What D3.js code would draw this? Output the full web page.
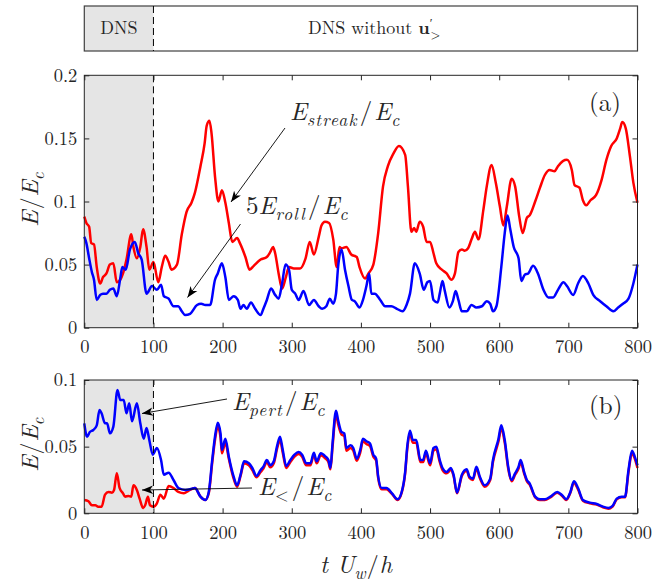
<!DOCTYPE html>
<html>
<head>
<meta charset="utf-8">
<script src="https://cdn.jsdelivr.net/npm/d3@7"></script>
<style>
  body { margin: 0; background: #fff; }
  svg text { font-family: "Latin Modern Roman", "Liberation Serif", serif; fill: #262626; }
</style>
</head>
<body>
<div id="chart"></div>
<script>
// ---- data ----
let xTicks = [0, 100, 200, 300, 400, 500, 600, 700, 800];
let yTicksA = [0, 0.05, 0.1, 0.15, 0.2];
let yTicksB = [0, 0.05, 0.1];
let dnsEnd = 100;

// panel (a), red: E_streak/E_c
let streakT = [0,3,7,10,14,18,23,27,32,37,42,47,52,56,61,68,71,76,81,85,90,94,100,107,112,117,122,126,134,141,148,155,160,168,174,177,181,184,189,194,199,204,209,214,221,225,233,239,245,255,264,269,273,276,281,286,291,296,303,312,320,326,332,339,343,348,354,360,365,369,372,379,386,394,398,406,411,418,425,432,439,447,455,464,468,473,477,480,485,490,495,500,505,509,517,524,531,536,541,546,550,555,560,565,570,577,582,589,595,601,606,611,618,623,629,634,640,644,652,659,666,673,680,685,692,698,705,709,716,721,726,732,740,748,755,762,770,775,778,783,789,794,800];
let streakE = [.088,.083,.080,.067,.066,.048,.035,.040,.043,.050,.051,.036,.038,.043,.054,.074,.064,.055,.064,.078,.064,.046,.052,.036,.048,.057,.052,.046,.050,.074,.092,.099,.107,.128,.146,.160,.164,.154,.120,.100,.109,.099,.083,.068,.071,.067,.056,.046,.049,.054,.056,.060,.064,.059,.043,.031,.039,.048,.047,.047,.055,.068,.058,.072,.081,.084,.083,.070,.048,.064,.063,.064,.058,.056,.048,.039,.043,.050,.075,.112,.128,.138,.144,.137,.112,.076,.079,.076,.084,.080,.068,.068,.059,.051,.046,.043,.038,.043,.060,.062,.061,.063,.070,.076,.070,.093,.112,.129,.115,.096,.081,.096,.118,.112,.088,.075,.087,.089,.100,.111,.121,.125,.124,.128,.132,.133,.125,.113,.111,.101,.097,.101,.105,.117,.133,.144,.150,.158,.163,.158,.136,.115,.099];

// panel (a), blue: 5 E_roll/E_c
let rollT = [0,3,7,11,14,18,23,27,32,37,42,47,52,55,60,66,73,78,83,90,98,105,111,115,122,129,136,141,146,153,163,169,175,182,189,193,199,204,209,216,222,226,230,235,241,247,255,259,264,270,276,281,286,291,296,300,305,310,317,325,332,339,344,350,355,360,364,367,372,377,382,387,391,398,403,408,412,415,420,428,435,444,452,460,466,471,478,485,491,496,500,505,511,514,518,521,528,533,537,541,546,553,560,567,575,582,587,591,596,603,608,612,616,621,628,632,637,642,649,656,664,671,678,685,693,698,707,714,721,729,736,746,755,765,772,779,787,794,800];
let rollE = [.072,.067,.055,.044,.038,.022,.026,.027,.027,.030,.031,.025,.039,.048,.046,.062,.068,.059,.054,.027,.033,.030,.034,.025,.023,.017,.017,.013,.010,.011,.018,.019,.018,.018,.038,.043,.051,.040,.022,.025,.022,.015,.018,.015,.020,.015,.010,.015,.022,.031,.026,.023,.035,.050,.046,.030,.027,.022,.029,.018,.022,.017,.015,.017,.023,.019,.027,.048,.062,.046,.033,.022,.021,.016,.022,.033,.043,.027,.027,.022,.017,.017,.015,.013,.018,.027,.051,.043,.030,.036,.037,.022,.020,.027,.037,.030,.016,.021,.029,.022,.013,.013,.018,.016,.017,.021,.019,.013,.017,.048,.075,.089,.078,.064,.055,.037,.042,.043,.049,.043,.030,.024,.024,.030,.036,.033,.026,.035,.041,.035,.026,.021,.017,.013,.016,.019,.023,.035,.050];

// panel (b), blue: E_pert/E_c
let pertT = [0,4,8,13,18,22,25,30,33,37,42,48,52,57,61,65,69,76,81,86,90,94,99,105,111,115,122,129,136,146,153,160,168,175,180,185,189,193,197,199,204,209,216,221,226,231,238,243,249,255,259,264,269,274,279,283,287,292,298,304,310,315,321,327,332,336,342,349,353,356,359,364,367,372,376,379,385,389,394,399,403,408,413,418,422,425,430,437,445,453,459,464,467,471,475,480,486,490,494,500,505,509,514,518,524,530,534,539,546,553,557,562,567,572,579,587,591,599,603,608,613,618,623,628,631,636,640,644,652,659,666,674,684,691,697,703,708,714,721,731,741,750,758,764,770,777,782,787,792,796,800];
let pertE = [.0675,.0575,.061,.0625,.066,.0775,.075,.0675,.0675,.060,.065,.0925,.085,.085,.075,.0825,.069,.0825,.0675,.056,.064,.055,.044,.049,.040,.029,.0305,.025,.019,.0175,.018,.019,.0125,.010,.016,.040,.0575,.068,.060,.0475,.056,.0425,.0275,.021,.029,.039,.0375,.034,.028,.0325,.035,.040,.036,.039,.051,.0575,.0475,.0355,.040,.044,.046,.044,.0375,.0375,.0455,.039,.045,.0425,.040,.034,.0525,.077,.070,.061,.060,.049,.051,.049,.041,.0475,.056,.054,.0525,.044,.041,.0275,.019,.019,.015,.0105,.016,.031,.050,.062,.055,.055,.040,.040,.047,.0375,.049,.050,.040,.034,.031,.034,.029,.0155,.029,.033,.0275,.026,.035,.0275,.021,.026,.040,.056,.066,.055,.035,.025,.030,.035,.040,.031,.025,.0225,.0125,.0105,.0105,.0125,.016,.0135,.0105,.016,.024,.019,.010,.008,.007,.005,.004,.0055,.011,.0125,.0125,.0325,.047,.0425,.036];

// panel (b), red: E_</E_c
let lowT = [0,6,11,16,20,25,30,35,40,43,47,51,56,59,64,68,71,76,80,85,88,92,95,100,105,110,115,122,129,136,144,151,160,168,175,180,185,189,193,197,199,204,209,216,221,226,231,238,243,249,255,259,264,269,274,279,283,287,292,298,304,310,315,321,327,332,336,342,349,353,356,359,364,367,372,376,379,385,389,394,399,403,408,413,418,422,425,430,437,445,453,459,464,467,471,475,480,486,490,494,500,505,509,514,518,524,530,534,539,546,553,557,562,567,572,579,587,591,599,603,608,613,618,623,628,631,636,640,644,652,659,666,674,684,691,697,703,708,714,721,731,741,750,758,764,770,777,782,787,792,796,800];
let lowE = [.010,.009,.006,.006,.005,.005,.014,.016,.0155,.0175,.030,.019,.015,.0125,.013,.0125,.021,.0175,.011,.004,.006,.0125,.006,.005,.0075,.014,.011,.0205,.019,.016,.015,.017,.019,.0125,.010,.015,.038,.055,.065,.057,.045,.053,.041,.026,.020,.028,.0375,.036,.0325,.027,.031,.0335,.0385,.0345,.0375,.049,.055,.0455,.034,.0385,.0425,.0445,.0425,.036,.036,.044,.0375,.0435,.041,.0385,.033,.050,.074,.067,.059,.058,.047,.049,.047,.0395,.0455,.054,.052,.0505,.0425,.0395,.0265,.018,.018,.0145,.010,.0155,.030,.048,.060,.053,.053,.0385,.0385,.045,.036,.047,.048,.0385,.0325,.030,.0325,.028,.015,.028,.032,.0265,.025,.0335,.0265,.020,.025,.0385,.054,.0635,.053,.0335,.024,.029,.0335,.0385,.030,.024,.0215,.012,.010,.010,.012,.0155,.013,.010,.0155,.023,.018,.0095,.0075,.0065,.0045,.0035,.005,.0105,.012,.012,.031,.045,.041,.034];

// ---- layout ----
var width = 654, height = 582;
var svg = d3.select('#chart').append('svg')
    .attr('width', width)
    .attr('height', height);

let left = 84.3, right = 637.5;
let x = d3.scaleLinear().domain([0, 800]).range([left, right]);
let yA = d3.scaleLinear().domain([0, 0.2]).range([327.7, 75.3]);
let yB = d3.scaleLinear().domain([0, 0.1]).range([513.3, 380]);

let defs = svg.append("defs");
defs.append("marker")
    .attr("id", "head")
    .attr("viewBox", "-12 -6 14 12")
    .attr("markerWidth", 14).attr("markerHeight", 12)
    .attr("markerUnits", "userSpaceOnUse")
    .attr("refX", 0).attr("refY", 0)
    .attr("orient", "auto")
    .append("path")
    .attr("d", "M0,0 L-11,-4.2 L-8,0 L-11,4.2 Z")
    .attr("fill", "#000");

// helper: text with italic letters, sub- and superscripts
function mathText(parent, px, py, parts, size) {
    let t = parent.append("text").attr("x", px).attr("y", py)
        .style("font-size", size + "px");
    let shift = 0;
    parts.forEach(p => {
        let sp = t.append("tspan").text(p.s);
        let want = p.sub ? size * 0.25 : (p.sup ? -size * 0.38 : 0);
        sp.attr("dy", want - shift);
        shift = want;
        if (p.sub || p.sup) sp.style("font-size", (size * 0.7) + "px");
        if (p.it) sp.style("font-style", "italic");
        if (p.b) sp.style("font-weight", "bold");
        if (p.dx) sp.attr("dx", p.dx);
        if (p.ls) sp.style("letter-spacing", p.ls + "px");
    });
    return t;
}

// ---- banner ----
let banner = svg.append("g");
banner.append("rect").attr("x", left).attr("y", 6).attr("width", x(dnsEnd) - left).attr("height", 45)
    .attr("fill", "#e5e5e5");
banner.append("rect").attr("x", left).attr("y", 6).attr("width", right - left).attr("height", 45)
    .attr("fill", "none").attr("stroke", "#404040").attr("stroke-width", 1.2);
banner.append("line").attr("x1", x(dnsEnd)).attr("x2", x(dnsEnd)).attr("y1", 6).attr("y2", 51)
    .attr("stroke", "#000").attr("stroke-width", 1).attr("stroke-dasharray", "7,4");
banner.append("text").attr("x", (left + x(dnsEnd)) / 2).attr("y", 34)
    .attr("text-anchor", "middle").style("font-size", "18px").text("DNS");
mathText(banner, 308, 34, [
    {s: "DNS without "},
    {s: "u", b: true},
    {s: "′", sup: true},
    {s: ">", sub: true, dx: -2}
], 18);

// ---- panels ----
function panel(y, yTicks, series, label) {
    let g = svg.append("g");
    let [y0, y1] = y.range();
    g.append("rect").attr("x", left).attr("y", y1).attr("width", x(dnsEnd) - left).attr("height", y0 - y1)
        .attr("fill", "#e5e5e5");

    series.forEach(s => {
        let line = d3.line()
            .x((d, i) => x(s.t[i]))
            .y(d => y(d))
            .curve(d3.curveMonotoneX);
        g.append("path").datum(s.v)
            .attr("d", line)
            .attr("fill", "none")
            .attr("stroke", s.color)
            .attr("stroke-width", 2.5)
            .attr("stroke-linejoin", "round");
    });

    g.append("line").attr("x1", x(dnsEnd)).attr("x2", x(dnsEnd)).attr("y1", y1).attr("y2", y0)
        .attr("stroke", "#000").attr("stroke-width", 1).attr("stroke-dasharray", "7,4");

    let fmt = d => String(d);
    let axB = g.append("g").attr("transform", "translate(0," + y0 + ")")
        .call(d3.axisBottom(x).tickValues(xTicks).tickFormat(fmt).tickSizeInner(-5).tickSizeOuter(0).tickPadding(7));
    let axT = g.append("g").attr("transform", "translate(0," + y1 + ")")
        .call(d3.axisTop(x).tickValues(xTicks).tickFormat("").tickSizeInner(-5).tickSizeOuter(0));
    let axL = g.append("g").attr("transform", "translate(" + left + ",0)")
        .call(d3.axisLeft(y).tickValues(yTicks).tickFormat(fmt).tickSizeInner(-5).tickSizeOuter(0).tickPadding(7));
    let axR = g.append("g").attr("transform", "translate(" + right + ",0)")
        .call(d3.axisRight(y).tickValues(yTicks).tickFormat("").tickSizeInner(-5).tickSizeOuter(0));
    [axB, axT, axL, axR].forEach(a => {
        a.attr("font-family", null);
        a.select(".domain").remove();
        a.selectAll("line").attr("stroke", "#262626");
        a.selectAll("text").style("font-size", "18.5px").attr("fill", "#262626");
    });
    axB.selectAll("text").attr("dy", "1em");

    g.append("rect").attr("x", left).attr("y", y1).attr("width", right - left).attr("height", y0 - y1)
        .attr("fill", "none").attr("stroke", "#262626").attr("stroke-width", 1);

    g.append("text").attr("x", 589).attr("y", label.y).style("font-size", "25px").text(label.s);

    mathText(g, 0, 0, [
        {s: "E", it: true}, {s: "/", dx: 1}, {s: "E", it: true, dx: 1}, {s: "c", it: true, sub: true}
    ], 24).attr("transform", "translate(38," + ((y0 + y1) / 2 - 2) + ") rotate(-90)")
        .attr("text-anchor", "middle");
    return g;
}

let gA = panel(yA, yTicksA, [
    {t: streakT, v: streakE, color: "#ff0000"},
    {t: rollT, v: rollE, color: "#0000ff"}
], {s: "(a)", y: 111});

let gB = panel(yB, yTicksB, [
    {t: lowT, v: lowE, color: "#ff0000"},
    {t: pertT, v: pertE, color: "#0000ff"}
], {s: "(b)", y: 414});

// ---- annotations ----
function arrow(x1, y1, x2, y2) {
    svg.append("line").attr("x1", x1).attr("y1", y1).attr("x2", x2).attr("y2", y2)
        .attr("stroke", "#000").attr("stroke-width", 0.9)
        .attr("marker-end", "url(#head)");
}
arrow(285, 128, 231, 202);
arrow(240.5, 224, 187.5, 297.5);
arrow(227, 399, 142, 413.5);
arrow(252, 488, 142, 490);

function ratio(px, py, pre, sub) {
    let parts = [];
    if (pre) parts.push({s: pre});
    parts.push({s: "E", it: true}, {s: sub, it: sub !== "<", sub: true, ls: 1.2},
        {s: "/", dx: 2}, {s: "E", it: true, dx: 2}, {s: "c", it: true, sub: true});
    return mathText(svg, px, py, parts, 25);
}
ratio(290, 120, "", "streak");
ratio(246, 214, "5", "roll");
ratio(232, 410, "", "pert");
ratio(258, 495, "", "<");

// x label
mathText(svg, 0, 0, [
    {s: "t", it: true}, {s: " U", it: true}, {s: "w", it: true, sub: true}, {s: "/", dx: 1}, {s: "h", it: true, dx: 1}
], 24).attr("transform", "translate(356,573)").attr("text-anchor", "middle");
</script>
</body>
</html>
